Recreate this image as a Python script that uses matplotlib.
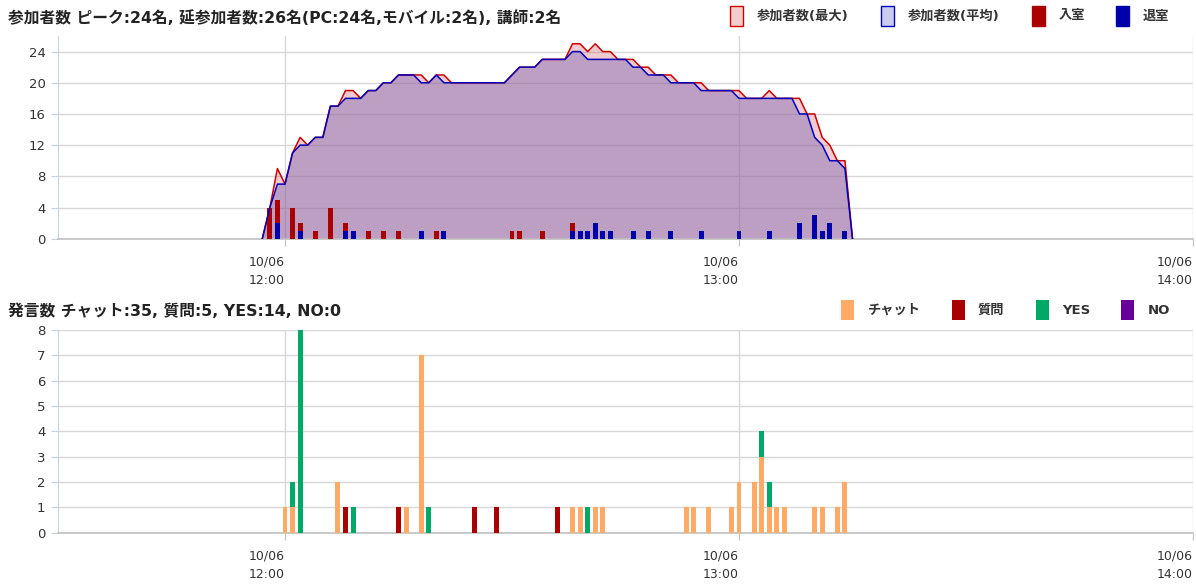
import matplotlib
matplotlib.use('Agg')
import matplotlib.pyplot as plt
from matplotlib.patches import Rectangle
from matplotlib.transforms import ScaledTranslation
import numpy as np

plt.rcParams['font.family'] = ['DejaVu Sans', 'Noto Sans CJK JP']

# minutes from 12:00 (10/06)
line_min = list(range(-3, 76))
peak_max = [0, 4, 9, 7, 11, 13, 12, 13, 13, 17, 17, 19, 19, 18, 19, 19, 20, 20, 21, 21,
            21, 21, 20, 21, 21, 20, 20, 20, 20, 20, 20, 20, 20, 21, 22, 22, 22, 23, 23, 23,
            23, 25, 25, 24, 25, 24, 24, 23, 23, 23, 22, 22, 21, 21, 21, 20, 20, 20, 20, 19,
            19, 19, 19, 19, 18, 18, 18, 19, 18, 18, 18, 18, 16, 16, 13, 12, 10, 10, 0]
peak_avg = [0, 4, 7, 7, 11, 12, 12, 13, 13, 17, 17, 18, 18, 18, 19, 19, 20, 20, 21, 21,
            21, 20, 20, 21, 20, 20, 20, 20, 20, 20, 20, 20, 20, 21, 22, 22, 22, 23, 23, 23,
            23, 24, 24, 23, 23, 23, 23, 23, 23, 22, 22, 21, 21, 21, 20, 20, 20, 20, 19, 19,
            19, 19, 19, 18, 18, 18, 18, 18, 18, 18, 18, 16, 16, 13, 12, 10, 10, 9, 0]

in_min = [-2, -1, 1, 2, 4, 6, 8, 11, 13, 15, 20, 30, 31, 34, 38]
in_cnt = [4, 5, 4, 2, 1, 4, 2, 1, 1, 1, 1, 1, 1, 1, 2]
out_min = [-1, 2, 8, 9, 18, 21, 38, 39, 40, 41, 42, 43, 46, 48, 51, 55, 60, 64, 68, 70, 71, 72, 74]
out_cnt = [2, 1, 1, 1, 1, 1, 1, 1, 1, 2, 1, 1, 1, 1, 1, 1, 1, 1, 2, 3, 1, 2, 1]

chat_min = [0, 1, 7, 16, 18, 38, 39, 41, 42, 53, 54, 56, 59, 60, 62, 63, 64, 65, 66, 70, 71, 73, 74]
chat_cnt = [1, 1, 2, 1, 7, 1, 1, 1, 1, 1, 1, 1, 1, 2, 2, 3, 1, 1, 1, 1, 1, 1, 2]
q_min = [8, 15, 25, 28, 36]
q_cnt = [1, 1, 1, 1, 1]
yes_min = [1, 2, 9, 19, 40, 63, 64]
yes_cnt = [1, 8, 1, 1, 1, 1, 1]
no_min = []
no_cnt = []

tick_pos = [0, 60, 120]
tick_lbl = ['10/06\n12:00', '10/06\n13:00', '10/06\n14:00']

title1 = '参加者数 ピーク:24名, 延参加者数:26名(PC:24名,モバイル:2名), 講師:2名'
title2 = '発言数 チャット:35, 質問:5, YES:14, NO:0'

W, H = 1196, 584
fig = plt.figure(figsize=(W / 100, H / 100), dpi=100)


def fx(px):
    return px / W


def fy(py):
    return 1 - py / H


ax1 = fig.add_axes([fx(58), fy(238.7), fx(1193 - 58), (238.7 - 36) / H])
ax2 = fig.add_axes([fx(58), fy(532.7), fx(1193 - 58), (532.7 - 330) / H])

shift = ScaledTranslation(-3 / 100, 0, fig.dpi_scale_trans)
for ax in (ax1, ax2):
    ax.set_xlim(-30, 120)
    ax.set_axisbelow(True)
    for s in ('top', 'right'):
        ax.spines[s].set_visible(False)
    ax.spines['left'].set_color('#C8D4E0')
    ax.spines['bottom'].set_color('#C0C0C0')
    ax.spines['bottom'].set_linewidth(1.2)
    ax.grid(True, color='#D8D8D8', linewidth=1)
    ax.set_xticks(tick_pos)
    ax.set_xticklabels(tick_lbl, fontsize=9, color='#333333', linespacing=1.55)
    for lbl in ax.get_xticklabels():
        lbl.set_ha('right')
        lbl.set_transform(lbl.get_transform() + shift)
    ax.tick_params(axis='x', length=5, color='#C0C0C0', pad=7)
    ax.tick_params(axis='y', length=5, color='#C0D0E0', labelsize=9.5,
                   labelcolor='#333333', pad=4)

# top chart
ax1.set_ylim(0, 26)
ax1.set_yticks([0, 4, 8, 12, 16, 20, 24])
ax1.fill_between(line_min, 0, peak_max, color='#CC3344', alpha=0.25, linewidth=0, zorder=2)
ax1.fill_between(line_min, 0, peak_avg, color='#8A74B8', alpha=0.5, linewidth=0, zorder=2)
bw = 0.66
ax1.bar(in_min, in_cnt, width=bw, color='#AA0000', zorder=3)
ax1.bar(out_min, out_cnt, width=bw, color='#0000AA', zorder=3)
ax1.plot(line_min, peak_max, color='#CC0000', linewidth=1.1, zorder=4)
ax1.plot(line_min, peak_avg, color='#0000BB', linewidth=1.1, zorder=4)

# bottom chart (stacked)
grid_m = np.arange(-30, 121)


def full(mins, cnts):
    arr = np.zeros(len(grid_m))
    for m, c in zip(mins, cnts):
        arr[m + 30] += c
    return arr


chat = full(chat_min, chat_cnt)
ques = full(q_min, q_cnt)
yes = full(yes_min, yes_cnt)
no = full(no_min, no_cnt)
ax2.set_ylim(0, 8)
ax2.set_yticks(range(0, 9))
ax2.bar(grid_m, chat, width=bw, color='#FFAA66', zorder=3)
ax2.bar(grid_m, ques, width=bw, bottom=chat, color='#AA0000', zorder=3)
ax2.bar(grid_m, yes, width=bw, bottom=chat + ques, color='#00AA66', zorder=3)
ax2.bar(grid_m, no, width=bw, bottom=chat + ques + yes, color='#660099', zorder=3)

# titles
fig.text(fx(8), fy(18), title1, fontsize=11.3, fontweight='bold', va='center', color='#222222')
fig.text(fx(8), fy(311), title2, fontsize=11.3, fontweight='bold', va='center', color='#222222')

# legends
leg1 = [('参加者数(最大)', '#F2CDCD', '#CC0000', 730, 757),
        ('参加者数(平均)', '#CCCCEE', '#0000BB', 881, 908),
        ('入室', '#AA0000', '#AA0000', 1032, 1059),
        ('退室', '#0000AA', '#0000AA', 1116, 1143)]
leg2 = [('チャット', '#FFAA66', 841, 868),
        ('質問', '#AA0000', 952, 978),
        ('YES', '#00AA66', 1036, 1062),
        ('NO', '#660099', 1121, 1148)]
for name, fc, ec, mx, tx in leg1:
    fig.patches.append(Rectangle((fx(mx), fy(26)), 12.5 / W, 20 / H, facecolor=fc,
                                 edgecolor=ec, linewidth=1, transform=fig.transFigure))
    fig.text(fx(tx), fy(16), name, fontsize=9.5, fontweight='bold', va='center', color='#333333')
for name, fc, mx, tx in leg2:
    fig.patches.append(Rectangle((fx(mx), fy(320)), 12.5 / W, 20 / H, facecolor=fc,
                                 edgecolor='none', transform=fig.transFigure))
    fig.text(fx(tx), fy(310), name, fontsize=9.5, fontweight='bold', va='center', color='#333333')

fig.savefig('out.png', dpi=100)
